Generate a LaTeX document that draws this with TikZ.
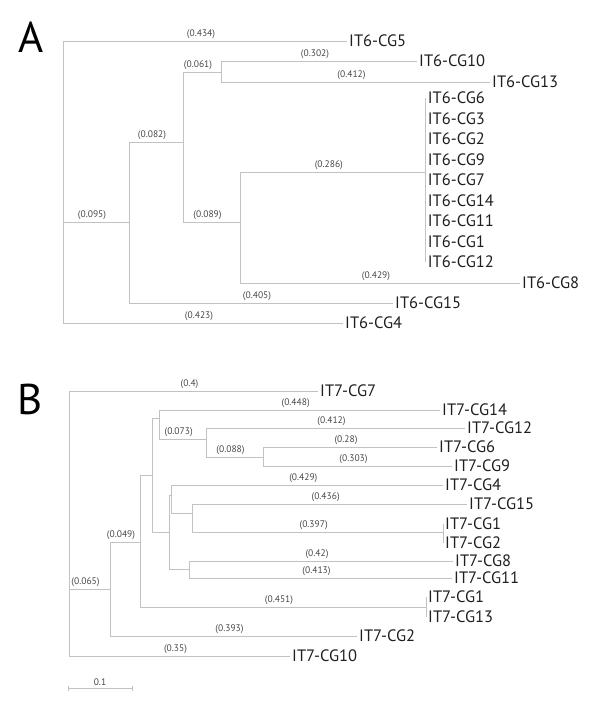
\documentclass[tikz,border=0pt]{standalone}
\usepackage{fontspec}
\setmainfont{PT Sans}

\begin{document}
\begin{tikzpicture}[
  x=1pt, y=-1pt,
  branch/.style={draw=black!24, line width=0.9pt},
  leaf/.style={anchor=west, inner sep=2pt, font=\fontsize{16.5}{18}\selectfont, text=black!88},
  blen/.style={above, pos=0.75, xshift=-4pt, inner sep=1.5pt, font=\fontsize{9.5}{11}\selectfont, text=black!72},
  panel/.style={inner sep=0pt, font=\fontsize{43}{46}\selectfont}
]
  \useasboundingbox (0,0) rectangle (600,725);

  % panel A
  \node[panel] (labA) at (31,37) {A};
  \coordinate (rA) at (63,222);
  \coordinate (nA1) at (129,222);
  \coordinate (nA2) at (183,142);
  \coordinate (nA3) at (221,72);
  \coordinate (nA4) at (240,222);
  \coordinate (cA) at (425.7,172);

  \node[leaf] (a5) at (347,41) {IT6-CG5};
  \node[leaf] (a10) at (417,61) {IT6-CG10};
  \node[leaf] (a13) at (490,82) {IT6-CG13};
  \node[leaf] (a6) at (425.7,98) {IT6-CG6};
  \node[leaf] (a3) at (425.7,118.5) {IT6-CG3};
  \node[leaf] (a2) at (425.7,139) {IT6-CG2};
  \node[leaf] (a9) at (425.7,159.5) {IT6-CG9};
  \node[leaf] (a7) at (425.7,180) {IT6-CG7};
  \node[leaf] (a14) at (425.7,200.5) {IT6-CG14};
  \node[leaf] (a11) at (425.7,221) {IT6-CG11};
  \node[leaf] (a1) at (425.7,241.5) {IT6-CG1};
  \node[leaf] (a12) at (425.7,262) {IT6-CG12};
  \node[leaf] (a8) at (520,283) {IT6-CG8};
  \node[leaf] (a15) at (393,303) {IT6-CG15};
  \node[leaf] (a4) at (343,323) {IT6-CG4};

  \draw[branch] (rA) |- node[blen]{(0.434)} (a5);
  \draw[branch] (rA) |- node[blen]{(0.095)} (nA1);
  \draw[branch] (rA) |- node[blen]{(0.423)} (a4);
  \draw[branch] (nA1) |- node[blen]{(0.082)} (nA2);
  \draw[branch] (nA1) |- node[blen]{(0.405)} (a15);
  \draw[branch] (nA2) |- node[blen]{(0.061)} (nA3);
  \draw[branch] (nA2) |- node[blen]{(0.089)} (nA4);
  \draw[branch] (nA3) |- node[blen]{(0.302)} (a10);
  \draw[branch] (nA3) |- node[blen]{(0.412)} (a13);
  \draw[branch] (nA4) |- node[blen]{(0.286)} (cA);
  \draw[branch] (nA4) |- node[blen]{(0.429)} (a8);
  \draw[branch] (cA) |- (a6);
  \draw[branch] (cA) |- (a3);
  \draw[branch] (cA) |- (a2);
  \draw[branch] (cA) |- (a9);
  \draw[branch] (cA) |- (a7);
  \draw[branch] (cA) |- (a14);
  \draw[branch] (cA) |- (a11);
  \draw[branch] (cA) |- (a1);
  \draw[branch] (cA) |- (a12);

  % panel B
  \node[panel] (labB) at (30,399) {B};
  \coordinate (rB) at (69,589);
  \coordinate (nB1) at (110,589);
  \coordinate (nB2) at (140,542);
  \coordinate (nB3) at (152.3,475);
  \coordinate (nB4) at (159.3,418);
  \coordinate (nB6) at (206,439);
  \coordinate (nB7) at (263,457);
  \coordinate (nB5) at (169,532);
  \coordinate (nB8) at (171.7,495);
  \coordinate (nB10) at (192.3,513);
  \coordinate (nB9) at (189,569);
  \coordinate (cB1) at (443,532);
  \coordinate (cB2) at (426,607);

  \node[leaf] (b7) at (318,391) {IT7-CG7};
  \node[leaf] (b14) at (440,410) {IT7-CG14};
  \node[leaf] (b12) at (465,428) {IT7-CG12};
  \node[leaf] (b6) at (437,447) {IT7-CG6};
  \node[leaf] (b9) at (452,466) {IT7-CG9};
  \node[leaf] (b4) at (443,485) {IT7-CG4};
  \node[leaf] (b15) at (467,504) {IT7-CG15};
  \node[leaf] (b1a) at (443,524) {IT7-CG1};
  \node[leaf] (b2a) at (443,543) {IT7-CG2};
  \node[leaf] (b8) at (453,561) {IT7-CG8};
  \node[leaf] (b11) at (452,578) {IT7-CG11};
  \node[leaf] (b1b) at (426,597) {IT7-CG1};
  \node[leaf] (b13) at (426,617) {IT7-CG13};
  \node[leaf] (b2) at (357,636) {IT7-CG2};
  \node[leaf] (b10) at (290,656) {IT7-CG10};

  \draw[branch] (rB) |- node[blen]{(0.4)} (b7);
  \draw[branch] (rB) |- node[blen]{(0.065)} (nB1);
  \draw[branch] (rB) |- node[blen]{(0.35)} (b10);
  \draw[branch] (nB1) |- node[blen]{(0.049)} (nB2);
  \draw[branch] (nB1) |- node[blen]{(0.393)} (b2);
  \draw[branch] (nB2) |- (nB3);
  \draw[branch] (nB2) |- node[blen]{(0.451)} (cB2);
  \draw[branch] (nB3) |- (nB4);
  \draw[branch] (nB3) |- (nB5);
  \draw[branch] (nB4) |- node[blen]{(0.448)} (b14);
  \draw[branch] (nB4) |- node[blen]{(0.073)} (nB6);
  \draw[branch] (nB6) |- node[blen]{(0.412)} (b12);
  \draw[branch] (nB6) |- node[blen]{(0.088)} (nB7);
  \draw[branch] (nB7) |- node[blen]{(0.28)} (b6);
  \draw[branch] (nB7) |- node[blen]{(0.303)} (b9);
  \draw[branch] (nB5) |- (nB8);
  \draw[branch] (nB5) |- (nB9);
  \draw[branch] (nB8) |- node[blen]{(0.429)} (b4);
  \draw[branch] (nB8) |- (nB10);
  \draw[branch] (nB10) |- node[blen]{(0.436)} (b15);
  \draw[branch] (nB10) |- node[blen]{(0.397)} (cB1);
  \draw[branch] (nB9) |- node[blen]{(0.42)} (b8);
  \draw[branch] (nB9) |- node[blen]{(0.413)} (b11);
  \draw[branch] (cB1) |- (b1a);
  \draw[branch] (cB1) |- (b2a);
  \draw[branch] (cB2) |- (b1b);
  \draw[branch] (cB2) |- (b13);

  % scale bar
  \coordinate (sbL) at (68,688);
  \coordinate (sbR) at (132,688);
  \draw[branch] (sbL) -- node[above, inner sep=2pt, font=\fontsize{9.5}{11}\selectfont, text=black!72]{0.1} (sbR);
  \draw[branch] ([yshift=-2.5pt]sbL) -- ([yshift=2.5pt]sbL);
  \draw[branch] ([yshift=-2.5pt]sbR) -- ([yshift=2.5pt]sbR);
\end{tikzpicture}
\end{document}
